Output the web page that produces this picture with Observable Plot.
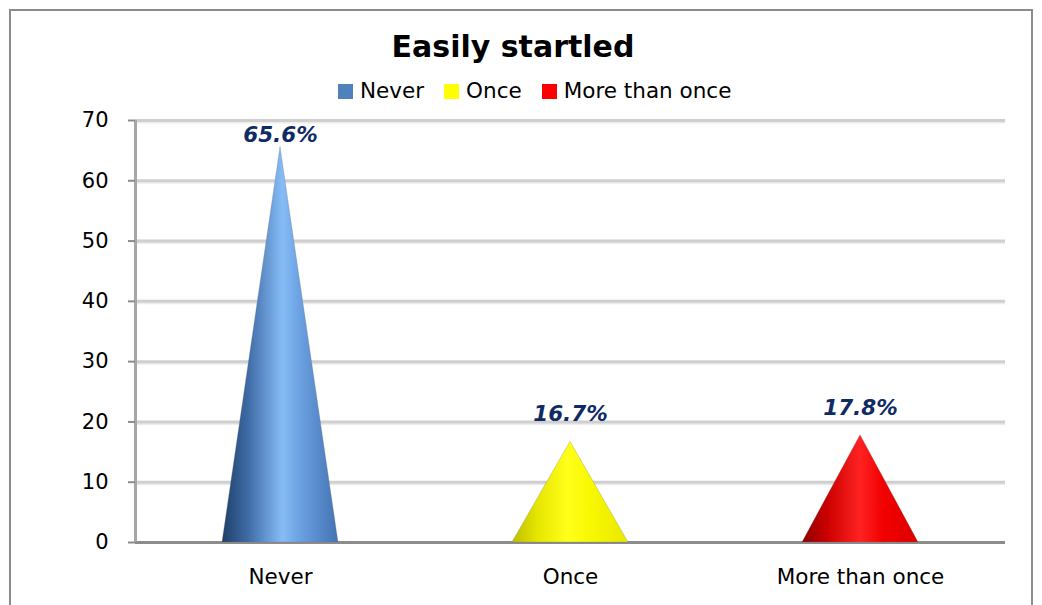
<!DOCTYPE html>
<html>
<head>
<meta charset="utf-8">
<script src="https://cdn.jsdelivr.net/npm/d3@7"></script>
<script src="https://cdn.jsdelivr.net/npm/@observablehq/plot@0.6"></script>
<style>
  body { margin: 0; background: #fff; font-family: "DejaVu Sans", sans-serif; }
  #wrap { position: relative; width: 1042px; height: 605px; overflow: hidden; background: #fff; }
  #frame { position: absolute; left: 9px; top: 9px; width: 1020px; height: 640px; border: 2px solid #8c8c8c; }
  #title { position: absolute; left: 0; width: 1026px; top: 27px; text-align: center; font-weight: bold; font-size: 30px; line-height: 40px; color: #000; }
  #legend { position: absolute; left: 338px; top: 79px; display: flex; align-items: center; font-size: 21.5px; line-height: 24px; color: #000; }
  #legend .item { display: flex; align-items: center; margin-right: 20px; }
  #legend .sw { width: 15px; height: 15px; margin-right: 7px; }
  #chart { position: absolute; left: 0; top: 100px; }
</style>
</head>
<body>
<div id="wrap">
  <div id="frame"></div>
  <div id="title"></div>
  <div id="legend"></div>
  <div id="chart"></div>
</div>
<script>
// ---- data ----
const chartTitle = "Easily startled";
const categories = ["Never", "Once", "More than once"];
const values = [65.6, 16.7, 17.8];
const yTicks = [0, 10, 20, 30, 40, 50, 60, 70];

// ---- styles ----
const swatchColors = ["#4f81bd", "#ffff00", "#ff0000"];
const gradients = [
  [["0%", "#1f3f68"], ["22%", "#3d6aa5"], ["52%", "#86bcf6"], ["68%", "#6a9fe0"], ["100%", "#4373b3"]],
  [["0%", "#bdbd00"], ["22%", "#e6e600"], ["48%", "#ffff1a"], ["70%", "#f7f700"], ["100%", "#e8e800"]],
  [["0%", "#8c0000"], ["22%", "#cc0000"], ["50%", "#ff2222"], ["70%", "#f20000"], ["100%", "#dd0000"]]
];

document.getElementById("title").textContent = chartTitle;
const legend = d3.select("#legend");
categories.forEach((c, i) => {
  const it = legend.append("div").attr("class", "item");
  it.append("div").attr("class", "sw").style("background", swatchColors[i]);
  it.append("span").text(c);
});

const rows = categories.map((c, i) => ({category: c, index: i, value: values[i]}));
const halfBase = 0.2;
const cones = rows.map(r => [
  {x: r.index - halfBase, y: 0},
  {x: r.index, y: r.value},
  {x: r.index + halfBase, y: 0}
]);
const gridTicks = yTicks.filter(t => t > 0);

const svg = Plot.plot({
  width: 1042,
  height: 505,
  marginTop: 20,
  marginBottom: 63,
  marginLeft: 135,
  marginRight: 37,
  style: {fontFamily: "DejaVu Sans, sans-serif", fontSize: "21px", color: "#000", background: "transparent"},
  x: {type: "linear", domain: [-0.5, 2.5]},
  y: {domain: [0, 70]},
  marks: [
    Plot.ruleY(gridTicks, {stroke: "#ececec", strokeWidth: 2, dy: 2}),
    Plot.ruleY(gridTicks, {stroke: "#cfcfcf", strokeWidth: 3}),
    Plot.ruleY([0], {stroke: "#8c8c8c", strokeWidth: 3}),
    ...cones.map((pts, i) => Plot.areaY(pts, {x: "x", y: "y", fill: `url(#cone${i})`, stroke: "#7a7a7a", strokeOpacity: 0.35, strokeWidth: 0.8})),
    Plot.ruleX([-0.5], {stroke: "#a6a6a6", strokeWidth: 3}),
    Plot.axisY({ticks: yTicks, tickSize: 7, tickPadding: 20, stroke: "#8c8c8c", strokeWidth: 2, fill: "#000", fontSize: 21, label: null}),
    Plot.axisX({ticks: [0, 1, 2], tickFormat: i => categories[i], tickSize: 0, tickPadding: 26, fill: "#000", fontSize: 21.5, label: null}),
    Plot.text(rows, {
      x: "index",
      y: d => Math.min(d.value + 3.4, 66.5),
      text: d => d.value.toFixed(1) + "%",
      lineAnchor: "bottom",
      fontSize: 21.5,
      fontWeight: "bold",
      fontStyle: "italic",
      fill: "#0f2b66"
    })
  ]
});

const defs = d3.select(svg).insert("defs", ":first-child");
gradients.forEach((stops, i) => {
  const g = defs.append("linearGradient").attr("id", `cone${i}`)
    .attr("x1", "0%").attr("x2", "100%").attr("y1", "0%").attr("y2", "0%");
  stops.forEach(([o, c]) => g.append("stop").attr("offset", o).attr("stop-color", c));
});

document.getElementById("chart").appendChild(svg);
</script>
</body>
</html>
